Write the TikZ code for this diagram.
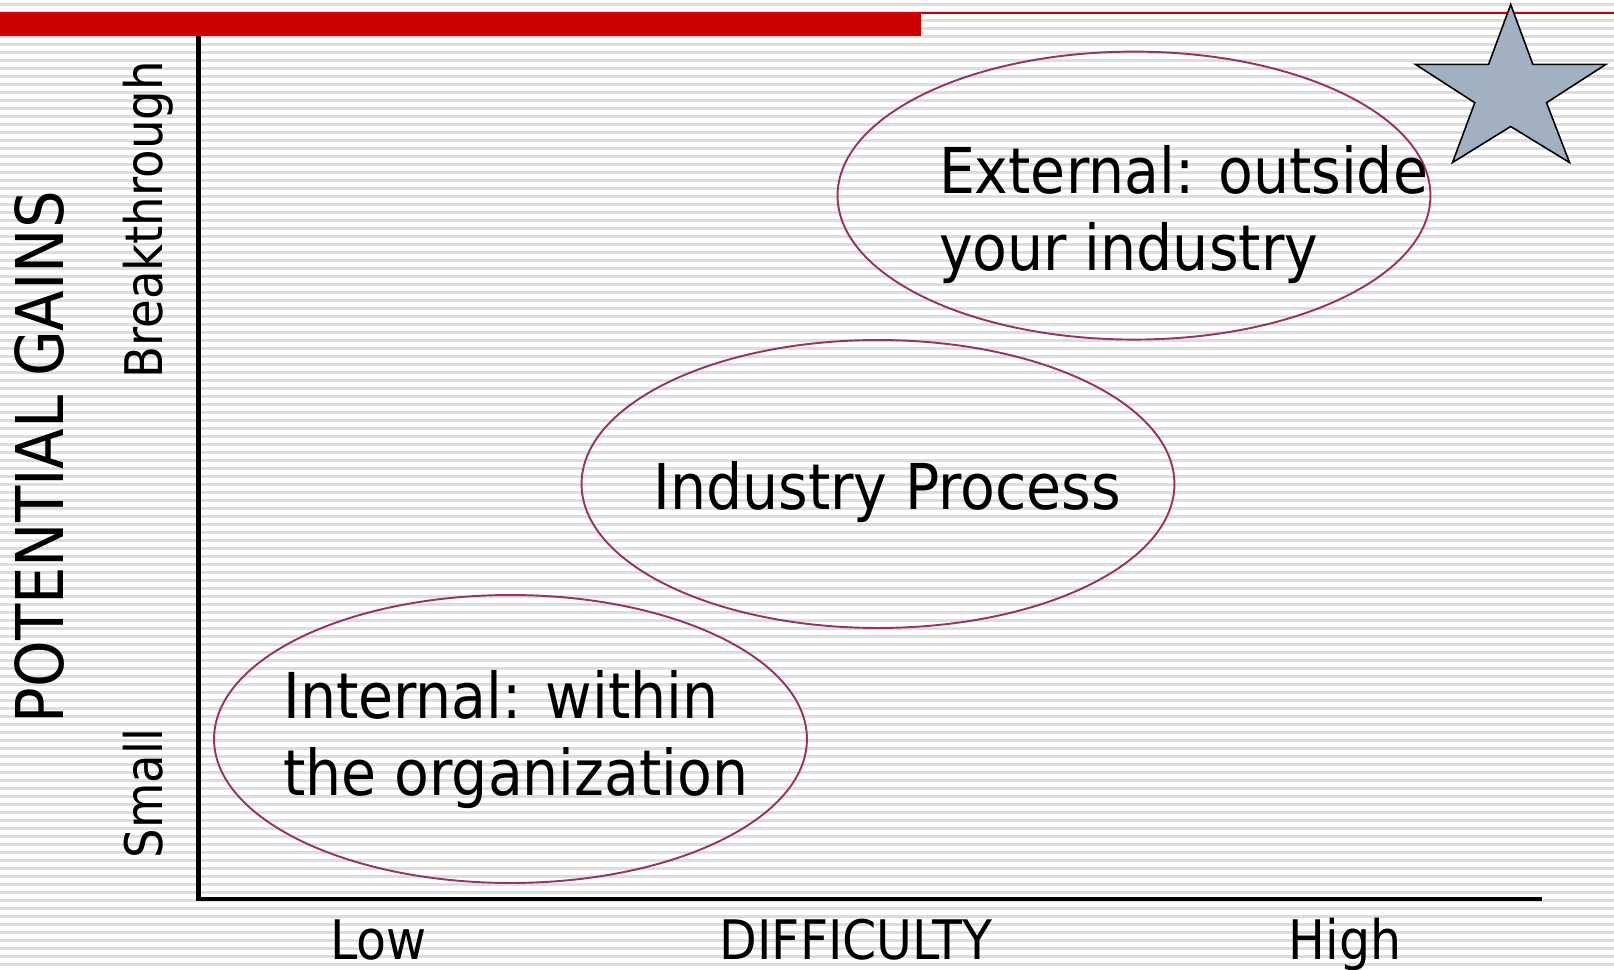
\documentclass[tikz,border=0pt]{standalone}
\usepackage{fontspec}
\setmainfont{DejaVu Sans Condensed}
\usetikzlibrary{shapes.geometric}

\definecolor{barred}{RGB}{204,0,0}
\definecolor{stripegray}{RGB}{221,221,221}
\definecolor{ringpurple}{RGB}{153,51,102}
\definecolor{stargray}{RGB}{162,177,193}

\tikzset{
  zone/.style={ellipse, draw=ringpurple, line width=1.1pt,
    minimum width=11.86cm, minimum height=5.76cm, inner sep=0pt},
  zonetext/.style={font=\fontsize{36}{43.6}\selectfont, align=left,
    anchor=base west, inner sep=0pt},
  gainlabel/.style={font=\fontsize{37.5}{43}\selectfont, rotate=90,
    anchor=base, inner sep=0pt},
  levellabel/.style={font=\fontsize{29.5}{35}\selectfont, rotate=90,
    anchor=base, inner sep=0pt},
  difflabel/.style={font=\fontsize{31}{37}\selectfont, anchor=base,
    inner sep=0pt}
}

\begin{document}
\begin{tikzpicture}[x=0.02cm,y=-0.02cm]
\useasboundingbox (0,0) rectangle (1614,970);
\fill[white] (0,0) rectangle (1614,970);
% ruled background
\foreach \y in {4.6,12.6,...,970}
  \draw[stripegray, line width=1.4pt] (0,\y) -- (1614,\y);

% title bar
\fill[barred] (0,12) rectangle (921,36);
\draw[barred, line width=1pt] (921,12.7) -- (1614,12.7);

% star
\draw[fill=stargray, line width=0.9pt]
  (1510.7,4.5) -- (1532.8,64.3) -- (1606,64.3) -- (1546.5,102.7)
  -- (1569.5,162.5) -- (1510.7,126.5) -- (1452.5,162.5) -- (1474.8,102.7)
  -- (1415.3,64.3) -- (1488.6,64.3) -- cycle;

% axes
\draw[line width=2.8pt] (198.5,36) -- (198.5,899) -- (1542,899);

% zones
\node[zone] (internal) at (510.5,739) {};
\node[zone] (industry) at (878,484) {};
\node[zone] (external) at (1134,195.6) {};

% base of a two-line label is its last line
\node[zonetext] (internaltext) at (283,795) {Internal: within\\the organization};
\node[zonetext] (industrytext) at (653,509) {Industry Process};
\node[zonetext] (externaltext) at (938.7,270) {External: outside\\your industry};

% axis labels
\node[gainlabel] (gains) at (63.3,457) {POTENTIAL GAINS};
\node[levellabel] (breakthrough) at (162,220) {Breakthrough};
\node[levellabel] (small) at (162,793.5) {Small};
\node[difflabel] (low) at (378.3,959) {Low};
\node[difflabel] (difficulty) at (856,959) {DIFFICULTY};
\node[difflabel] (high) at (1345,959) {High};
\end{tikzpicture}
\end{document}
